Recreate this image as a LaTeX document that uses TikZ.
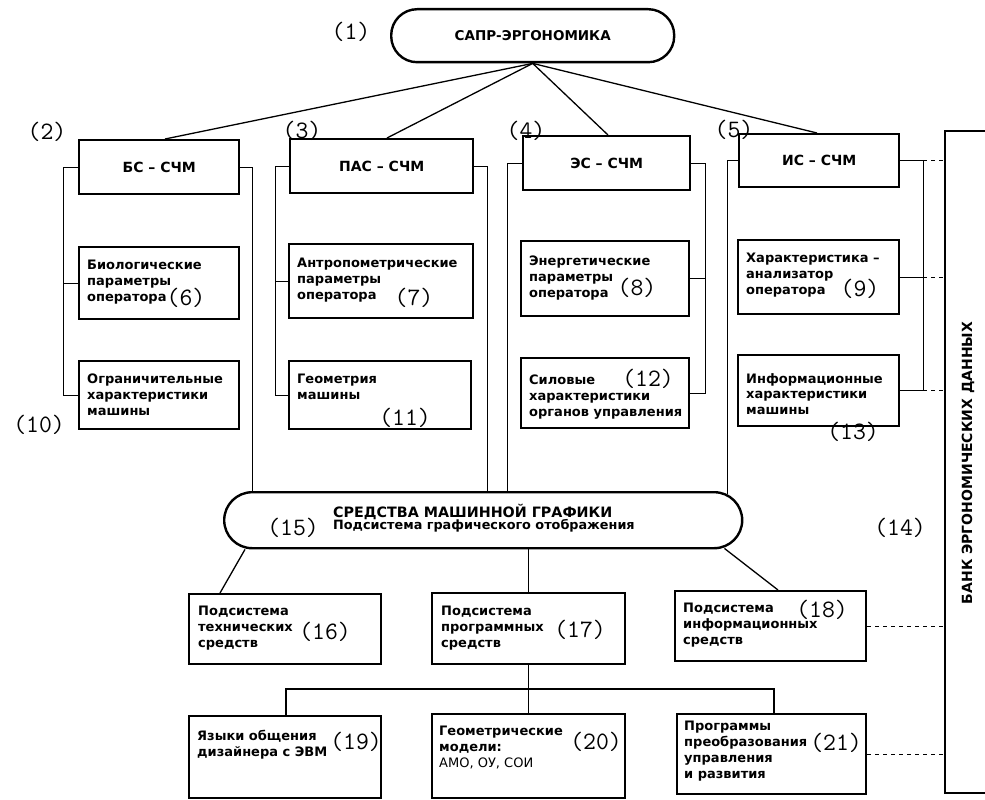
\documentclass[tikz,border=0pt]{standalone}
\usepackage{fontspec}
\setmainfont{DejaVu Sans}
\usetikzlibrary{calc}
\tikzset{
  box/.style={draw, line width=2.4pt, inner sep=0pt, anchor=north west},
  conn/.style={line width=1.3pt},
  brk/.style={line width=1pt},
  dsh/.style={line width=1.3pt, dash pattern=on 4pt off 4pt},
  txt/.style={anchor=north west, inner sep=0pt, align=left, font=\bfseries\fontsize{13}{15.8}\selectfont},
  num/.style={inner sep=0pt, font=\ttfamily\fontsize{25}{25}\selectfont},
  head/.style={font=\bfseries\fontsize{14}{16}\selectfont}
}
\begin{document}
\begin{tikzpicture}[x=1pt,y=-1pt]
\useasboundingbox (0,0) rectangle (985,800);

% top node
\node[box, rounded corners=26pt, minimum width=283, minimum height=53, font=\bfseries\fontsize{13.5}{16}\selectfont] (sapr) at (390,8) {САПР-ЭРГОНОМИКА};

% column heads
\node[box, minimum width=160, minimum height=54, head] (bs) at (78,139) {БС -- СЧМ};
\node[box, minimum width=183, minimum height=54, head] (pas) at (289,138) {ПАС -- СЧМ};
\node[box, minimum width=167, minimum height=54, head] (es) at (522,135) {ЭС -- СЧМ};
\node[box, minimum width=160, minimum height=53, head] (is) at (738,133) {ИС -- СЧМ};

% second row
\node[box, minimum width=160, minimum height=72] (b6) at (78,246) {};
\node[box, minimum width=184, minimum height=74] (b7) at (288,243) {};
\node[box, minimum width=168, minimum height=75] (b8) at (520,240) {};
\node[box, minimum width=161, minimum height=74] (b9) at (737,239) {};
% third row
\node[box, minimum width=160, minimum height=68] (b10) at (78,360) {};
\node[box, minimum width=182, minimum height=68] (b11) at (288,360) {};
\node[box, minimum width=168, minimum height=70] (b12) at (520,357) {};
\node[box, minimum width=161, minimum height=71] (b13) at (737,354) {};

% graphics node
\node[box, rounded corners=28pt, minimum width=518, minimum height=56] (gm) at (223,491) {};

% lower boxes
\node[box, minimum width=192, minimum height=70] (b16) at (188,593) {};
\node[box, minimum width=193, minimum height=71] (b17) at (431,592) {};
\node[box, minimum width=191, minimum height=70] (b18) at (674,590) {};
\node[box, minimum width=192, minimum height=82] (b19) at (188,715) {};
\node[box, minimum width=193, minimum height=84] (b20) at (431,713) {};
\node[box, minimum width=189, minimum height=80] (b21) at (676,713) {};

% data bank
\node[box, minimum width=90, minimum height=662] (bank) at (944,130) {};
\node[rotate=90, font=\bfseries\fontsize{14}{16}\selectfont] (banktxt) at (968,463) {БАНК ЭРГОНОМИЧЕСКИХ ДАННЫХ};

% box texts
\node[txt] (t6) at ($(b6.north west)+(9,14)$) {Биологические\\параметры\\оператора};
\node[txt] (t7) at ($(b7.north west)+(9,15)$) {Антропометрические\\параметры\\оператора};
\node[txt] (t8) at ($(b8.north west)+(9,16)$) {Энергетические\\параметры\\оператора};
\node[txt] (t9) at ($(b9.north west)+(9,14)$) {Характеристика --\\анализатор\\оператора};
\node[txt] (t10) at ($(b10.north west)+(9,14)$) {Ограничительные\\характеристики\\машины};
\node[txt] (t11) at ($(b11.north west)+(9,14)$) {Геометрия\\машины};
\node[txt] (t12) at ($(b12.north west)+(9,18)$) {Силовые\\характеристики\\органов управления};
\node[txt] (t13) at ($(b13.north west)+(9,19)$) {Информационные\\характеристики\\машины};
\node[txt] (t16) at ($(b16.north west)+(10,13)$) {Подсистема\\технических\\средств};
\node[txt] (t17) at ($(b17.north west)+(10,14)$) {Подсистема\\программных\\средств};
\node[txt] (t18) at ($(b18.north west)+(9,13)$) {Подсистема\\информационных\\средств};
\node[txt] (t19) at ($(b19.north west)+(9,15)$) {Языки общения\\дизайнера с ЭВМ};
\node[txt] (t20) at ($(b20.north west)+(8,13)$) {Геометрические\\модели:\\{\mdseries АМО, ОУ, СОИ}};
\node[txt] (t21) at ($(b21.north west)+(8,8)$) {Программы\\преобразования\\управления\\и развития};
\node[anchor=west, inner sep=0pt, align=left] (gmtext) at (333,518) {{\bfseries\fontsize{14.3}{17}\selectfont СРЕДСТВА МАШИННОЙ ГРАФИКИ}\\[-1pt]{\bfseries\fontsize{12.8}{15}\selectfont Подсистема графического отображения}};

% number labels
\node[num] (n1) at (351,32) {(1)};
\node[num] (n2) at (47,132) {(2)};
\node[num] (n3) at (302,131) {(3)};
\node[num] (n4) at (526,131) {(4)};
\node[num] (n5) at (734,130) {(5)};
\node[num] (n6) at (186,298) {(6)};
\node[num] (n7) at (414,298) {(7)};
\node[num] (n8) at (637,288) {(8)};
\node[num] (n9) at (860,289) {(9)};
\node[num] (n10) at (39,425) {(10)};
\node[num] (n11) at (405,418) {(11)};
\node[num] (n12) at (648,379) {(12)};
\node[num] (n13) at (853,432) {(13)};
\node[num] (n14) at (900,528) {(14)};
\node[num] (n15) at (293,528) {(15)};
\node[num] (n16) at (325,632) {(16)};
\node[num] (n17) at (580,630) {(17)};
\node[num] (n18) at (822,610) {(18)};
\node[num] (n19) at (356,742) {(19)};
\node[num] (n20) at (596,742) {(20)};
\node[num] (n21) at (836,743) {(21)};

% connectors from top node
\draw[conn] (sapr.south) -- ($(bs.north west)+(87,0)$);
\draw[conn] (sapr.south) -- ($(pas.north west)+(98,0)$);
\draw[conn] (sapr.south) -- ($(es.north west)+(86,0)$);
\draw[conn] (sapr.south) -- ($(is.north west)+(79,0)$);

% column brackets
\draw[brk] (bs.west) -- ++(-15,0) |- (b10.west);
\draw[brk] (b6.west) -- ++(-15,0);
\draw[brk] (bs.east) -| ($(gm.north west)+(29,0)$);
\draw[brk] (pas.west) -- ++(-14,0) |- (b11.west);
\draw[brk] (b7.west) -- ++(-13,0);
\draw[brk] (pas.east) -| ($(gm.north west)+(264,0)$);
\draw[brk] (es.west) -| ($(gm.north west)+(284,0)$);
\draw[brk] (es.east) -- ++(14,0) |- (b12.east);
\draw[brk] (b8.east) -- ++(15,0);
\draw[brk] (is.west) -| ($(gm.north east)+(-16,3)$);
\draw[brk] (is.east) -- ++(23,0) coordinate (j1) |- (b13.east);
\draw[brk] (b9.east) -- ++(23,0) coordinate (j2);
\coordinate (j3) at ($(b13.east)+(23,0)$);
\draw[dsh] (j1) -- (j1 -| bank.west);
\draw[dsh] (j2) -- (j2 -| bank.west);
\draw[dsh] (j3) -- (j3 -| bank.west);

% lower connectors
\draw[conn] ($(gm.south west)+(22,0)$) -- ($(b16.north west)+(32,0)$);
\draw[conn] (b17.north |- gm.south) -- (b17.north);
\draw[conn] ($(gm.south east)+(-19,-1)$) -- ($(b18.north west)+(104,0)$);
\draw[conn] (b17.south) -- (b20.north);
\coordinate (busL) at ($(b19.north west)+(98,-26)$);
\coordinate (busR) at ($(b21.north west)+(98,-24)$);
\draw[conn] ($(b19.north west)+(98,0)$) -- (busL) -- (busR) -- ($(b21.north west)+(98,0)$);
\draw[dsh] (b18.east) -- (b18.east -| bank.west);
\draw[dsh] (b21.east) -- (b21.east -| bank.west);
\end{tikzpicture}
\end{document}
